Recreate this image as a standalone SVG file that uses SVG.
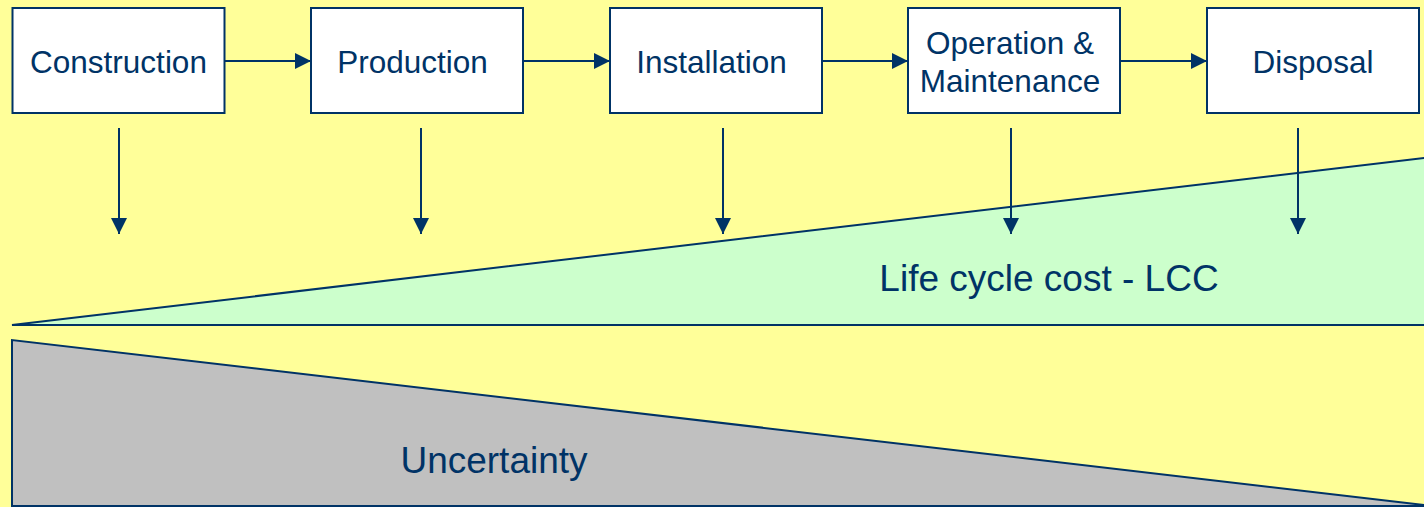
<svg xmlns="http://www.w3.org/2000/svg" width="1424" height="507" viewBox="0 0 1424 507">
<defs>
<marker id="ah2" viewBox="0 0 16 16" refX="16" refY="8" markerWidth="16" markerHeight="16" markerUnits="userSpaceOnUse" orient="auto"><path d="M0,0 L16,8 L0,16 Z" fill="#003366"/></marker>
<style>
.box{fill:#fff;stroke:#003366;stroke-width:2}
.lbl{font-family:"Liberation Sans",Arial,sans-serif;font-size:31.5px;fill:#003366;text-anchor:middle}
.big{font-family:"Liberation Sans",Arial,sans-serif;font-size:37px;fill:#003366;text-anchor:middle}
.con{stroke:#003366;stroke-width:2;fill:none;marker-end:url(#ah2)}
</style>
</defs>
<rect x="0" y="0" width="1424" height="507" fill="#FFFF99"/>
<g id="areas">
<polygon points="12,325 1428,157.5 1428,325" fill="#CCFFCC" stroke="#003366" stroke-width="2"/>
<polygon points="12,340 1424,505 1424,507 12,507" fill="#C0C0C0"/>
<polyline points="1424,505 12,340 12,507" fill="none" stroke="#003366" stroke-width="2"/>
<line x1="12" y1="506" x2="1424" y2="506" stroke="#003366" stroke-width="2"/>
<text class="big" x="1049" y="291">Life cycle cost - LCC</text>
<text class="big" x="494" y="473">Uncertainty</text>
</g>
<g id="connectors">
<line class="con" x1="225" y1="61" x2="311" y2="61"/>
<line class="con" x1="523" y1="61" x2="610" y2="61"/>
<line class="con" x1="822" y1="61" x2="908" y2="61"/>
<line class="con" x1="1120" y1="61" x2="1207" y2="61"/>
<line class="con" x1="119" y1="128" x2="119" y2="234"/>
<line class="con" x1="421" y1="128" x2="421" y2="234"/>
<line class="con" x1="723" y1="128" x2="723" y2="234"/>
<line class="con" x1="1011" y1="128" x2="1011" y2="234"/>
<line class="con" x1="1298" y1="128" x2="1298" y2="234"/>
</g>
<g id="construction"><rect class="box" x="12.5" y="8" width="212" height="105"/><text class="lbl" x="118.5" y="73">Construction</text></g>
<g id="production"><rect class="box" x="311" y="8" width="212" height="105"/><text class="lbl" x="412.5" y="73">Production</text></g>
<g id="installation"><rect class="box" x="610" y="8" width="212" height="105"/><text class="lbl" x="711.5" y="73">Installation</text></g>
<g id="operation"><rect class="box" x="908" y="8" width="212" height="105"/><text class="lbl" x="1010" y="54">Operation &amp;</text><text class="lbl" x="1010" y="92">Maintenance</text></g>
<g id="disposal"><rect class="box" x="1207" y="8" width="212" height="105"/><text class="lbl" x="1313" y="73">Disposal</text></g>
</svg>
